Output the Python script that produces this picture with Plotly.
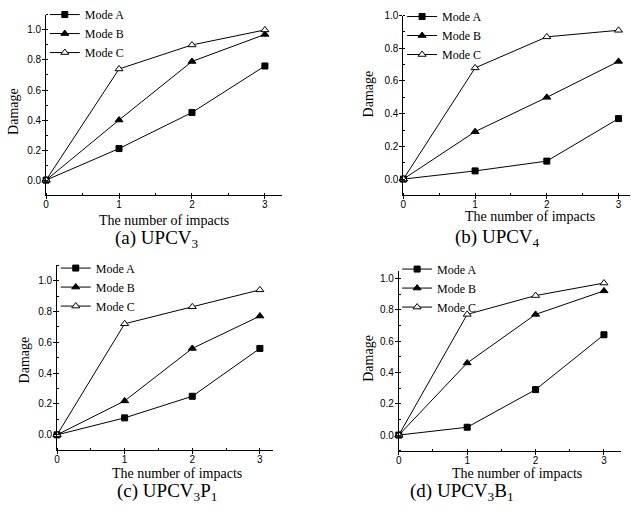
import plotly.graph_objects as go

impacts = [0, 1, 2, 3]
modes = ["Mode A", "Mode B", "Mode C"]

# (a) UPCV3
a_mode_a = [0, 0.21, 0.45, 0.76]
a_mode_b = [0, 0.40, 0.79, 0.97]
a_mode_c = [0, 0.74, 0.90, 1.00]
# (b) UPCV4
b_mode_a = [0, 0.05, 0.11, 0.37]
b_mode_b = [0, 0.29, 0.50, 0.72]
b_mode_c = [0, 0.68, 0.87, 0.91]
# (c) UPCV3P1
c_mode_a = [0, 0.11, 0.25, 0.56]
c_mode_b = [0, 0.22, 0.56, 0.77]
c_mode_c = [0, 0.72, 0.83, 0.94]
# (d) UPCV3B1
d_mode_a = [0, 0.05, 0.29, 0.64]
d_mode_b = [0, 0.46, 0.77, 0.92]
d_mode_c = [0, 0.77, 0.89, 0.97]

captions = ["(a) UPCV<sub>3</sub>", "(b) UPCV<sub>4</sub>",
            "(c) UPCV<sub>3</sub>P<sub>1</sub>", "(d) UPCV<sub>3</sub>B<sub>1</sub>"]
x_title = "The number of impacts"
y_title = "Damage"

W, H = 631, 517
SERIF = "Liberation Serif, Times New Roman, serif"
SANS = "Liberation Sans, Arial, sans-serif"

panels = [
    dict(data=[a_mode_a, a_mode_b, a_mode_c], xd=(43.3, 280), yd=(10, 192), xr=[0, 3.23], yr=[-0.1, 1.1],
         leg=(42, -5), cap=(155, 236), xt=(162, 218), yt=(11, 107)),
    dict(data=[b_mode_a, b_mode_b, b_mode_c], xd=(402.3, 630), yd=(10.7, 192.3), xr=[0, 3.16], yr=[-0.1, 1.0],
         leg=(401, -3), cap=(497, 235), xt=(530, 214), yt=(367, 90)),
    dict(data=[c_mode_a, c_mode_b, c_mode_c], xd=(54.3, 271.7), yd=(262.7, 449.6), xr=[0, 3.2], yr=[-0.1, 1.1],
         leg=(53, 251), cap=(165, 492), xt=(175, 473), yt=(22, 358)),
    dict(data=[d_mode_a, d_mode_b, d_mode_c], xd=(397.7, 621), yd=(268.1, 450.1), xr=[0, 3.25], yr=[-0.1, 1.05],
         leg=(396, 252), cap=(461, 492), xt=(516, 473), yt=(367, 357)),
]

symbols = ["square", "triangle-up", "triangle-up"]
fills = ["black", "black", "white"]
sizes = [6, 7, 7]

fig = go.Figure()
layout = dict(width=W, height=H, margin=dict(l=0, r=0, t=0, b=0),
              paper_bgcolor="white", plot_bgcolor="white", annotations=[])

for i, p in enumerate(panels):
    n = "" if i == 0 else str(i + 1)
    legname = "legend" + n
    for j, ys in enumerate(p["data"]):
        fig.add_trace(go.Scatter(
            x=impacts, y=ys, name=modes[j], mode="lines+markers",
            xaxis="x" + n, yaxis="y" + n, legend=legname, cliponaxis=False,
            line=dict(color="black", width=1),
            marker=dict(symbol=symbols[j], size=sizes[j], color=fills[j],
                        line=dict(color="black", width=1)),
        ))
    axis_common = dict(showline=True, linecolor="black", linewidth=1, showgrid=False, zeroline=False,
                       ticks="outside", ticklen=3, tickcolor="black", tickwidth=1,
                       tickfont=dict(family=SANS, size=10, color="black"))
    layout["xaxis" + n] = dict(
        domain=[p["xd"][0] / W, p["xd"][1] / W], range=p["xr"], anchor="y" + n,
        tickmode="linear", tick0=0, dtick=1, ticklabelstandoff=-3,
        minor=dict(ticks="inside", ticklen=2, dtick=0.5, tick0=0, tickcolor="black"),
        **axis_common)
    layout["yaxis" + n] = dict(
        domain=[1 - p["yd"][1] / H, 1 - p["yd"][0] / H], range=p["yr"], anchor="x" + n,
        tickmode="linear", tick0=0, dtick=0.2, tickformat=".1f", ticklabelstandoff=-1,
        minor=dict(ticks="inside", ticklen=2, dtick=0.1, tick0=0, tickcolor="black"),
        **axis_common)
    layout[legname] = dict(x=p["leg"][0] / W, y=1 - p["leg"][1] / H, xanchor="left", yanchor="top",
                           bgcolor="rgba(0,0,0,0)", borderwidth=0, itemwidth=30,
                           font=dict(family=SERIF, size=12, color="black"), tracegroupgap=0)
    layout["annotations"] += [
        dict(text=captions[i], x=p["cap"][0] / W, y=1 - p["cap"][1] / H, xref="paper", yref="paper",
             showarrow=False, xanchor="center", yanchor="middle",
             font=dict(family=SERIF, size=19, color="black")),
        dict(text=x_title, x=p["xt"][0] / W, y=1 - p["xt"][1] / H, xref="paper", yref="paper",
             showarrow=False, xanchor="center", yanchor="middle",
             font=dict(family=SERIF, size=14, color="black")),
        dict(text=y_title, x=p["yt"][0] / W, y=1 - p["yt"][1] / H, xref="paper", yref="paper",
             showarrow=False, xanchor="center", yanchor="middle", textangle=-90,
             font=dict(family=SERIF, size=14, color="black")),
    ]

fig.update_layout(**layout)
fig.write_html("out.html", config={"displayModeBar": False},
               post_script="document.body.style.margin='0';document.body.style.overflow='hidden';")
